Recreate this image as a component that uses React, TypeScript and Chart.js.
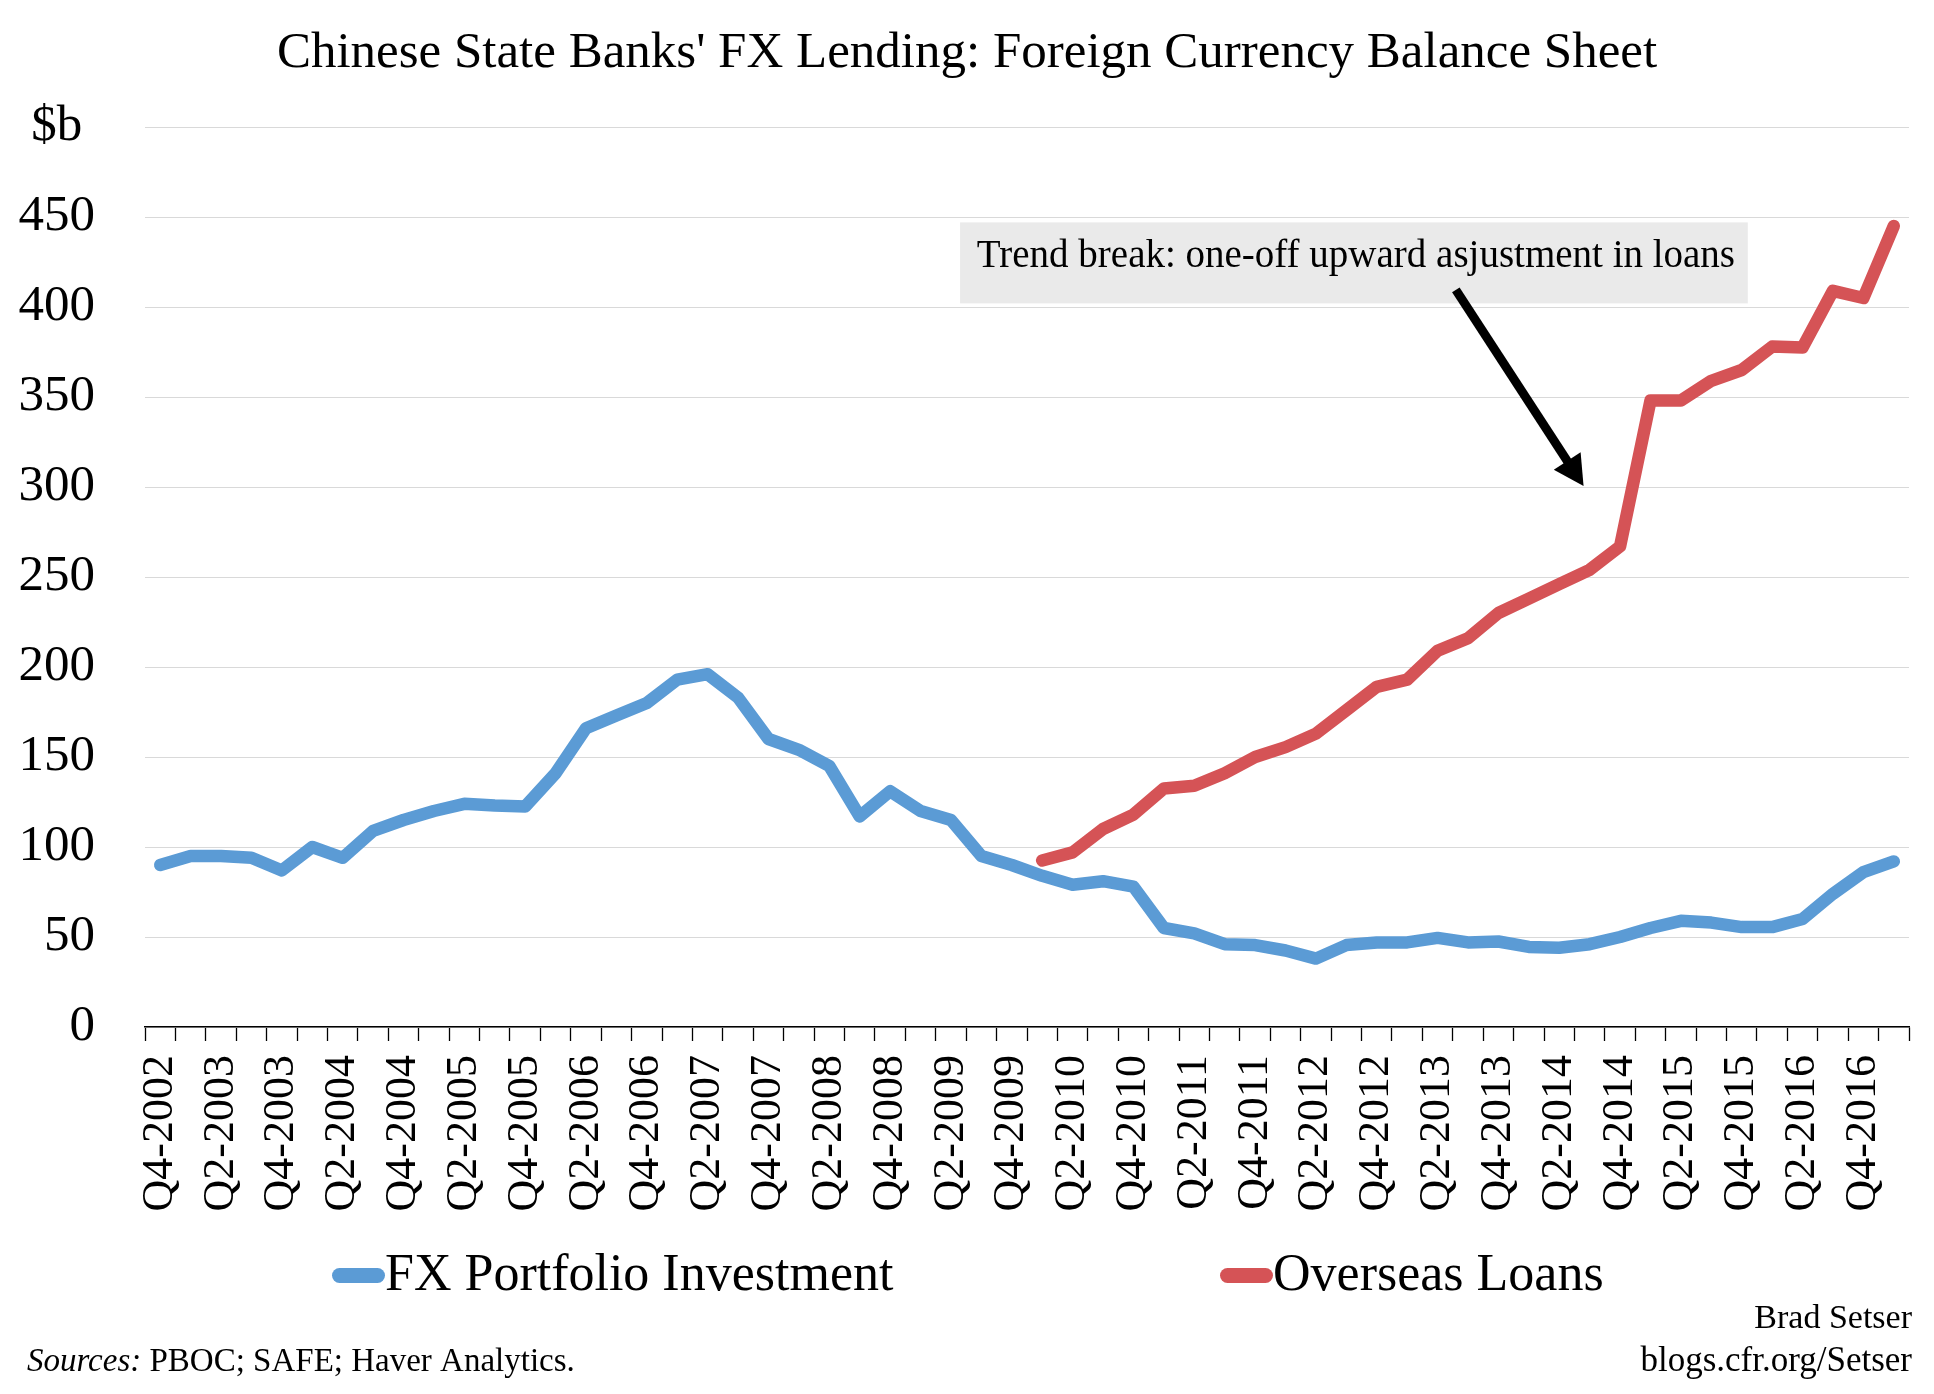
import React, { useEffect, useRef } from 'react';
import { Chart, registerables } from 'chart.js';

Chart.register(...registerables);

const quarters = [
  'Q4-2002',
  'Q1-2003', 'Q2-2003', 'Q3-2003', 'Q4-2003',
  'Q1-2004', 'Q2-2004', 'Q3-2004', 'Q4-2004',
  'Q1-2005', 'Q2-2005', 'Q3-2005', 'Q4-2005',
  'Q1-2006', 'Q2-2006', 'Q3-2006', 'Q4-2006',
  'Q1-2007', 'Q2-2007', 'Q3-2007', 'Q4-2007',
  'Q1-2008', 'Q2-2008', 'Q3-2008', 'Q4-2008',
  'Q1-2009', 'Q2-2009', 'Q3-2009', 'Q4-2009',
  'Q1-2010', 'Q2-2010', 'Q3-2010', 'Q4-2010',
  'Q1-2011', 'Q2-2011', 'Q3-2011', 'Q4-2011',
  'Q1-2012', 'Q2-2012', 'Q3-2012', 'Q4-2012',
  'Q1-2013', 'Q2-2013', 'Q3-2013', 'Q4-2013',
  'Q1-2014', 'Q2-2014', 'Q3-2014', 'Q4-2014',
  'Q1-2015', 'Q2-2015', 'Q3-2015', 'Q4-2015',
  'Q1-2016', 'Q2-2016', 'Q3-2016', 'Q4-2016',
  'Q1-2017',
];

const fxPortfolioInvestment = [
  90, 95, 95, 94, 87, 100, 94, 109, 115, 120,
  124, 123, 122.5, 141, 166, 173, 180, 193, 196, 183,
  160, 154, 145, 117, 131, 120, 115, 95, 90, 84,
  79, 81, 78, 55, 52, 46, 45.5, 42.5, 38, 45.5,
  47, 47, 49.5, 47, 47.5, 44.5, 44, 46, 50, 55,
  59, 58, 55.5, 55.5, 60, 74, 86, 92,
];

const overseasLoans = [
  null, null, null, null, null, null, null, null, null, null,
  null, null, null, null, null, null, null, null, null, null,
  null, null, null, null, null, null, null, null, null,
  92.5, 97, 110, 118, 132.5, 134, 141, 150, 155.5, 163,
  176, 189, 193, 209, 216, 230, 238, 246, 254, 267,
  348, 348, 359, 365, 378, 377.5, 409, 405, 445,
];

const yMin = 0;
const yMax = 500;
const yStep = 50;
const yUnitLabel = '$b';

const seriesNames = ['FX Portfolio Investment', 'Overseas Loans'];
const seriesColors = ['#5B9BD5', '#D55356'];

const titleText = "Chinese State Banks' FX Lending: Foreign Currency Balance Sheet";
const annotationText = 'Trend break: one-off upward asjustment in loans';
const sourcesLabel = 'Sources:';
const sourcesText = ' PBOC; SAFE; Haver Analytics.';
const creditLines = ['Brad Setser', 'blogs.cfr.org/Setser'];

// annotation anchors in data units (category index, value)
const noteBox = { x0: 26.3, x1: 52.2, yTop: 447, yBottom: 402, yText: 422 };
const noteArrow = { fromX: 42.6, fromY: 409.5, toX: 46.8, toY: 300.5 };

const FONT = '"Liberation Serif", "Times New Roman", serif';

const decorPlugin = {
  id: 'decor',
  afterDraw(chart: any) {
    const ctx = chart.ctx as CanvasRenderingContext2D;
    const xs = chart.scales.x;
    const ys = chart.scales.y;
    ctx.save();

    // Title
    ctx.fillStyle = '#000';
    ctx.font = `51px ${FONT}`;
    ctx.textAlign = 'center';
    ctx.textBaseline = 'alphabetic';
    ctx.fillText(titleText, 967, 67);

    // Annotation box
    const bx0 = xs.getPixelForValue(noteBox.x0);
    const bx1 = xs.getPixelForValue(noteBox.x1);
    const by0 = ys.getPixelForValue(noteBox.yTop);
    const by1 = ys.getPixelForValue(noteBox.yBottom);
    ctx.fillStyle = '#EAEAEA';
    ctx.fillRect(bx0, by0, bx1 - bx0, by1 - by0);
    ctx.fillStyle = '#000';
    ctx.font = `39px ${FONT}`;
    ctx.textAlign = 'center';
    ctx.fillText(annotationText, (bx0 + bx1) / 2 + 2, ys.getPixelForValue(noteBox.yText));

    // Arrow
    const ax0 = xs.getPixelForValue(noteArrow.fromX);
    const ay0 = ys.getPixelForValue(noteArrow.fromY);
    const ax1 = xs.getPixelForValue(noteArrow.toX);
    const ay1 = ys.getPixelForValue(noteArrow.toY);
    const len = Math.hypot(ax1 - ax0, ay1 - ay0);
    const ux = (ax1 - ax0) / len;
    const uy = (ay1 - ay0) / len;
    const headLen = 30;
    const headHalf = 16;
    const bxm = ax1 - ux * headLen;
    const bym = ay1 - uy * headLen;
    ctx.strokeStyle = '#000';
    ctx.lineWidth = 9;
    ctx.lineCap = 'butt';
    ctx.beginPath();
    ctx.moveTo(ax0, ay0);
    ctx.lineTo(bxm + ux * 2, bym + uy * 2);
    ctx.stroke();
    ctx.fillStyle = '#000';
    ctx.beginPath();
    ctx.moveTo(ax1, ay1);
    ctx.lineTo(bxm - uy * headHalf, bym + ux * headHalf);
    ctx.lineTo(bxm + uy * headHalf, bym - ux * headHalf);
    ctx.closePath();
    ctx.fill();

    // Legend
    const legendItems = [
      { x: 332, w: 53 },
      { x: 1220, w: 53 },
    ];
    ctx.font = `52px ${FONT}`;
    ctx.textAlign = 'left';
    legendItems.forEach((it, i) => {
      ctx.strokeStyle = seriesColors[i];
      ctx.lineWidth = 15;
      ctx.lineCap = 'round';
      ctx.beginPath();
      ctx.moveTo(it.x + 7.5, 1275.5);
      ctx.lineTo(it.x + it.w - 7.5, 1275.5);
      ctx.stroke();
      ctx.fillStyle = '#000';
      ctx.fillText(seriesNames[i], it.x + it.w, 1290);
    });

    // Sources
    ctx.textAlign = 'left';
    ctx.font = `italic 33px ${FONT}`;
    ctx.fillText(sourcesLabel, 27, 1371);
    const sw = ctx.measureText(sourcesLabel).width;
    ctx.font = `33px ${FONT}`;
    ctx.fillText(sourcesText, 27 + sw, 1371);

    // Credit
    ctx.textAlign = 'right';
    ctx.font = `34px ${FONT}`;
    ctx.fillText(creditLines[0], 1912, 1328);
    ctx.font = `35px ${FONT}`;
    ctx.fillText(creditLines[1], 1912, 1371);

    ctx.restore();
  },
};

export default function App() {
  const canvasRef = useRef<HTMLCanvasElement | null>(null);

  useEffect(() => {
    const canvas = canvasRef.current;
    if (!canvas) return;
    const chart = new Chart(canvas, {
      type: 'line',
      data: {
        labels: quarters,
        datasets: [
          {
            label: seriesNames[0],
            data: fxPortfolioInvestment,
            borderColor: seriesColors[0],
            backgroundColor: seriesColors[0],
            borderWidth: 12.5,
            pointRadius: 0,
            pointHoverRadius: 0,
            tension: 0,
            fill: false,
            borderCapStyle: 'round',
            borderJoinStyle: 'round',
            order: 1,
          },
          {
            label: seriesNames[1],
            data: overseasLoans,
            borderColor: seriesColors[1],
            backgroundColor: seriesColors[1],
            borderWidth: 12.5,
            pointRadius: 0,
            pointHoverRadius: 0,
            tension: 0,
            fill: false,
            spanGaps: false,
            borderCapStyle: 'round',
            borderJoinStyle: 'round',
            order: 0,
          },
        ],
      },
      options: {
        responsive: false,
        animation: false,
        devicePixelRatio: 1,
        layout: { padding: { left: 0, right: 25, top: 127, bottom: 167 } },
        plugins: {
          legend: { display: false },
          title: { display: false },
          tooltip: { enabled: false },
        },
        scales: {
          x: {
            type: 'category',
            offset: true,
            grid: {
              offset: true,
              drawOnChartArea: false,
              drawTicks: true,
              tickLength: 14,
              tickColor: '#000',
              tickWidth: 1.3,
              color: '#000',
            },
            border: { display: true, color: '#000', width: 1.5 },
            ticks: {
              autoSkip: false,
              maxRotation: 90,
              minRotation: 90,
              padding: 14,
              color: '#000',
              font: { family: FONT, size: 44 },
              callback: (_v: any, i: number) => (i % 2 === 0 ? quarters[i] : ''),
            },
            afterFit: (s: any) => {
              s.height = 200;
              s.paddingLeft = 0;
              s.paddingRight = 0;
            },
          },
          y: {
            min: yMin,
            max: yMax,
            ticks: {
              stepSize: yStep,
              padding: 50,
              color: '#000',
              font: { family: FONT, size: 51 },
              callback: (v: any) => (v === yMax ? yUnitLabel + ' ' : String(v)),
            },
            grid: { color: '#D9D9D9', lineWidth: 1, drawTicks: false },
            border: { display: false },
            afterFit: (s: any) => {
              s.width = 145;
            },
          },
        },
      },
      plugins: [decorPlugin],
    } as any);
    return () => chart.destroy();
  }, []);

  return (
    <div style={{ position: 'absolute', left: 0, top: 0, width: 1934, height: 1394, background: '#fff' }}>
      <canvas ref={canvasRef} width={1934} height={1394} style={{ display: 'block', width: 1934, height: 1394 }} />
    </div>
  );
}
